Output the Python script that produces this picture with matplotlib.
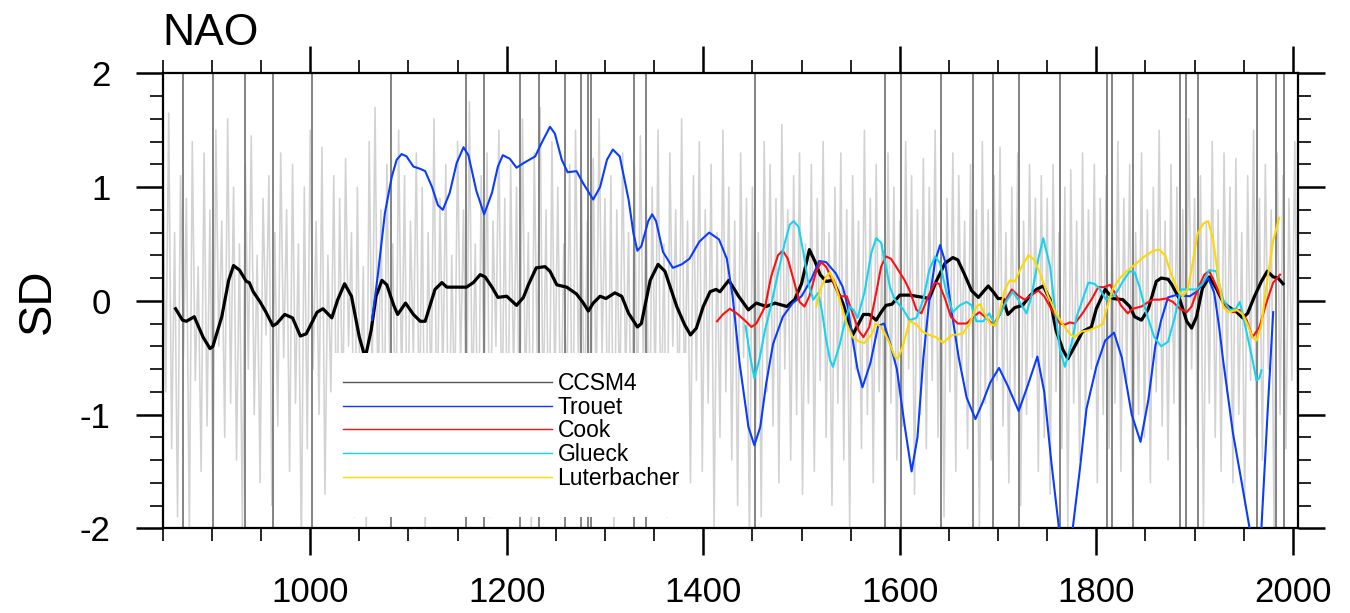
import numpy as np
import matplotlib
matplotlib.use("Agg")
import matplotlib.pyplot as plt
from matplotlib.lines import Line2D
from matplotlib.patches import Rectangle

plt.rcParams['font.family'] = ['Liberation Sans', 'DejaVu Sans']
plt.rcParams['axes.unicode_minus'] = False

# annual CCSM4 NAO index (light grey), sampled every 3 years from 850
annual_start = 850
annual_vals = [
    1.2, -0.8, 1.65, -1.3, 0.6, -1.9, 1.1, -0.5, 0.9, -2.1, 1.4, -0.7, 0.3, -1.5, 1.3, -1.1, 0.8, -1.7, 1.5, -0.4,
    0.7, -1.2, 1.6, -0.9, 1.0, -1.4, 0.5, -2.0, 1.2, -0.6, 1.45, -1.0, 0.4, -1.6, 0.9, -0.3, 1.1, -1.8, 0.6, -1.1,
    1.3, -0.5, 0.8, -1.5, 1.2, -0.9, 0.5, -2.2, 1.0, -1.3, 1.5, -0.6, 0.7, -1.0, 1.35, -1.7, 0.4, -0.8, 1.1, -1.4,
    0.9, -1.1, 1.25, -0.4, 0.6, -1.9, 1.0, -1.2, 0.3, -2.0, 1.4, -0.7, 1.7, -1.0, 0.8, -1.5, 1.2, -0.6, 0.5, -1.3,
    1.5, -0.8, 1.1, -1.6, 0.7, -0.5, 1.3, -1.2, 1.0, -2.1, 0.6, -0.9, 1.6, -1.4, 0.9, -0.7, 1.2, -1.8, 0.4, -1.0,
    1.4, -0.6, 0.8, -1.3, 1.75, -1.0, 0.5, -1.6, 1.1, -0.8, 1.3, -1.9, 0.7, -0.4, 1.5, -1.2, 0.9, -1.5, 1.2, -0.7,
    1.0, -1.4, 1.6, -0.9, 0.6, -2.0, 1.3, -0.5, 1.7, -1.1, 0.8, -1.6, 1.4, -0.8, 1.0, -1.3, 0.5, -1.0, 1.2, -1.7,
    1.5, -0.6, 1.1, -1.2, 0.7, -1.8, 1.25, -0.9, 1.6, -0.5, 0.9, -1.4, 1.1, -2.1, 0.8, -1.0, 1.3, -0.7, 0.6, -1.5,
    1.2, -1.1, 1.45, -0.6, 0.9, -1.7, 1.0, -0.8, 1.5, -1.3, 0.5, -1.9, 1.3, -0.4, 0.8, -1.2, 1.6, -1.0, 0.7, -1.6,
    1.1, -0.7, 1.4, -1.5, 0.8, -0.9, 1.2, -2.0, 0.6, -1.2, 1.5, -0.8, 1.0, -1.4, 0.7, -1.8, 1.3, -0.5, 0.9, -2.2,
    1.0, -1.3, 0.6, -1.9, 1.4, -0.8, 1.2, -1.1, 0.9, -1.6, 1.55, -0.6, 0.8, -1.4, 1.1, -1.0, 1.3, -1.7, 0.5, -0.9,
    1.2, -1.5, 0.9, -0.7, 1.4, -1.2, 0.6, -1.8, 1.0, -0.9, 1.3, -1.4, 0.8, -2.0, 1.1, -0.6, 0.7, -1.3, 1.5, -1.0,
    0.9, -1.6, 1.2, -0.8, 0.5, -2.1, 1.3, -0.9, 1.0, -1.4, 0.7, -1.1, 1.4, -0.6, 1.1, -1.7, 0.8, -1.0, 1.25, -1.3,
    1.0, -0.7, 1.5, -1.2, 0.6, -1.9, 0.9, -0.8, 1.3, -1.5, 1.1, -0.6, 0.7, -1.3, 1.2, -1.0, 0.8, -2.0, 1.4, -0.9,
    0.8, -1.4, 1.1, -0.7, 1.35, -1.1, 0.6, -1.6, 1.0, -0.9, 1.3, -1.8, 0.7, -1.0, 1.2, -0.5, 0.9, -1.5, 1.1, -1.2,
    0.9, -1.7, 1.2, -0.8, 0.6, -1.3, 1.0, -2.0, 1.15, -0.9, 0.7, -1.4, 1.3, -1.1, 0.8, -0.6, 1.2, -1.6, 0.9, -1.0,
    1.1, -1.3, 0.7, -0.9, 1.4, -1.5, 0.9, -0.7, 1.2, -1.9, 0.6, -1.0, 1.3, -1.2, 0.8, -1.6, 1.0, -0.8, 1.5, -1.1,
    0.7, -1.4, 1.2, -0.9, 1.0, -1.7, 0.8, -1.1, 1.6, -0.6, 0.9, -1.3, 1.1, -2.0, 0.7, -0.9, 1.4, -1.2, 0.8, -1.5,
    1.3, -0.8, 1.0, -1.6, 1.25, -1.0, 0.6, -1.8, 1.1, -0.7, 1.5, -1.2, 0.9, -1.4, 1.2, -0.6, 0.8, -2.1, 1.3, -1.0,
    1.1, -1.3, 0.9, -0.7, 1.4, -1.1,
]
annual_years = annual_start + 3 * np.arange(len(annual_vals))

# large volcanic eruptions (dark grey vertical lines)
volcano_years = [871, 901, 934, 962, 1002, 1082, 1159, 1177, 1214, 1233, 1259, 1276, 1283, 1286,
                 1330, 1342, 1453, 1585, 1601, 1642, 1674, 1695, 1721, 1763, 1811, 1816, 1837,
                 1885, 1891, 1903, 1964, 1983, 1991]

# smoothed CCSM4 NAO
ccsm_years = [863, 870, 874, 882, 891, 898, 901, 910, 917, 922, 928, 935, 938, 942, 949, 955, 962, 966,
              974, 982, 990, 996, 1003, 1007, 1013, 1022, 1028, 1035, 1042, 1050, 1056, 1062, 1067, 1073,
              1078, 1085, 1089, 1097, 1105, 1112, 1117, 1127, 1134, 1139, 1159, 1166, 1173, 1178, 1185,
              1191, 1200, 1210, 1217, 1222, 1230, 1239, 1244, 1251, 1261, 1271, 1278, 1283, 1288, 1295,
              1301, 1310, 1317, 1324, 1333, 1337, 1346, 1354, 1361, 1373, 1381, 1387, 1393, 1400, 1407,
              1413, 1417, 1426, 1436, 1446, 1454, 1464, 1473, 1485, 1493, 1500, 1508, 1514, 1519, 1525,
              1532, 1542, 1552, 1563, 1569, 1576, 1581, 1586, 1592, 1600, 1610, 1617, 1624, 1630, 1637,
              1646, 1654, 1659, 1666, 1673, 1680, 1685, 1690, 1695, 1700, 1705, 1710, 1717, 1725, 1732,
              1739, 1746, 1753, 1759, 1766, 1771, 1778, 1786, 1795, 1800, 1809, 1817, 1827, 1834, 1839,
              1846, 1853, 1861, 1866, 1873, 1877, 1885, 1892, 1897, 1902, 1908, 1915, 1922, 1929, 1934,
              1943, 1949, 1954, 1961, 1968, 1974, 1980, 1985, 1990]
ccsm_vals = [-0.07, -0.17, -0.18, -0.14, -0.32, -0.42, -0.40, -0.14, 0.18, 0.31, 0.27, 0.17, 0.16, 0.08,
             -0.01, -0.10, -0.22, -0.20, -0.12, -0.15, -0.31, -0.29, -0.17, -0.10, -0.07, -0.15, 0.01,
             0.15, 0.04, -0.32, -0.50, -0.26, 0.04, 0.18, 0.14, -0.04, -0.12, -0.02, -0.12, -0.18, -0.18,
             0.10, 0.16, 0.12, 0.12, 0.16, 0.23, 0.21, 0.12, 0.03, 0.04, -0.04, 0.03, 0.14, 0.29, 0.30,
             0.26, 0.14, 0.12, 0.06, -0.02, -0.09, -0.02, 0.04, 0.02, 0.07, 0.04, -0.11, -0.23, -0.20,
             0.18, 0.32, 0.26, -0.05, -0.21, -0.30, -0.24, -0.05, 0.08, 0.10, 0.08, 0.18, 0.04, -0.08,
             -0.02, -0.05, -0.02, -0.05, 0.01, 0.15, 0.45, 0.34, 0.23, 0.17, 0.18, -0.02, -0.30, -0.12,
             -0.12, -0.17, -0.10, -0.04, -0.03, 0.05, 0.05, 0.04, 0.03, 0.02, 0.17, 0.33, 0.38, 0.36,
             0.23, 0.09, 0.03, 0.08, 0.13, 0.08, 0.02, 0.02, -0.12, -0.06, -0.04, 0.04, 0.10, 0.13, 0.01,
             -0.26, -0.43, -0.51, -0.40, -0.27, -0.23, -0.07, 0.10, 0.02, 0.01, -0.05, -0.14, -0.17,
             -0.07, 0.17, 0.20, 0.19, 0.14, 0.01, -0.18, -0.24, -0.14, 0.11, 0.21, 0.11, -0.01, -0.05,
             -0.10, -0.15, -0.11, 0.04, 0.17, 0.26, 0.21, 0.20, 0.15]

# Trouet et al. reconstruction
trouet_years = [1063, 1069, 1076, 1083, 1088, 1093, 1098, 1105, 1112, 1117, 1124, 1130, 1135, 1142, 1149,
                1156, 1161, 1169, 1177, 1185, 1191, 1196, 1203, 1210, 1217, 1229, 1235, 1244, 1249, 1256,
                1262, 1271, 1278, 1288, 1295, 1302, 1308, 1315, 1324, 1329, 1333, 1337, 1344, 1348, 1352,
                1359, 1369, 1378, 1386, 1396, 1406, 1416, 1424, 1430, 1434, 1437, 1446, 1452, 1458, 1464,
                1471, 1481, 1491, 1500, 1510, 1518, 1525, 1535, 1542, 1547, 1552, 1557, 1562, 1570, 1578,
                1584, 1590, 1597, 1605, 1612, 1618, 1624, 1630, 1636, 1641, 1646, 1652, 1660, 1668, 1677,
                1684, 1692, 1701, 1710, 1721, 1730, 1740, 1747, 1754, 1762, 1769, 1776, 1783, 1790, 1800,
                1809, 1818, 1826, 1836, 1845, 1853, 1860, 1866, 1873, 1881, 1895, 1902, 1908, 1914, 1920,
                1925, 1929, 1939, 1948, 1956, 1962, 1968, 1975, 1980]
trouet_vals = [-0.17, 0.24, 0.77, 1.09, 1.24, 1.29, 1.27, 1.18, 1.16, 1.14, 1.00, 0.84, 0.80, 0.95, 1.21,
               1.35, 1.28, 0.97, 0.76, 0.95, 1.18, 1.28, 1.25, 1.17, 1.21, 1.27, 1.38, 1.53, 1.47, 1.24,
               1.13, 1.14, 1.03, 0.89, 1.00, 1.24, 1.33, 1.27, 0.89, 0.59, 0.44, 0.48, 0.70, 0.76, 0.70,
               0.43, 0.29, 0.32, 0.37, 0.52, 0.60, 0.54, 0.37, 0.03, -0.30, -0.55, -1.11, -1.27, -1.11,
               -0.73, -0.38, -0.14, -0.02, 0.04, 0.19, 0.35, 0.34, 0.24, 0.12, -0.05, -0.34, -0.60, -0.76,
               -0.55, -0.22, -0.20, -0.37, -0.60, -1.10, -1.50, -1.20, -0.50, 0.00, 0.35, 0.49, 0.35,
               -0.05, -0.50, -0.85, -1.04, -0.90, -0.72, -0.59, -0.75, -0.97, -0.75, -0.49, -0.80, -1.40,
               -2.00, -2.30, -2.00, -1.50, -0.95, -0.58, -0.35, -0.28, -0.50, -1.00, -1.24, -0.87, -0.40,
               -0.17, 0.03, 0.05, 0.04, 0.08, 0.15, 0.20, 0.07, -0.23, -0.52, -1.16, -1.60, -2.00, -2.25,
               -2.00, -0.87, -0.10]

# Cook et al. reconstruction
cook_years = [1414, 1420, 1427, 1434, 1442, 1449, 1454, 1463, 1469, 1476, 1481, 1486, 1493, 1498, 1503,
              1508, 1515, 1520, 1525, 1532, 1539, 1546, 1552, 1558, 1563, 1569, 1576, 1581, 1586, 1591,
              1597, 1605, 1610, 1617, 1622, 1629, 1636, 1640, 1646, 1652, 1659, 1668, 1675, 1681, 1688,
              1695, 1702, 1708, 1714, 1720, 1727, 1734, 1741, 1747, 1756, 1763, 1768, 1773, 1778, 1786,
              1795, 1802, 1808, 1814, 1819, 1825, 1832, 1837, 1846, 1853, 1858, 1864, 1871, 1878, 1885,
              1892, 1897, 1903, 1910, 1915, 1920, 1926, 1932, 1939, 1946, 1953, 1959, 1966, 1973, 1980,
              1987]
cook_vals = [-0.18, -0.12, -0.07, -0.11, -0.17, -0.23, -0.20, -0.05, 0.21, 0.40, 0.44, 0.37, 0.15, -0.01,
             -0.05, 0.04, 0.26, 0.34, 0.30, 0.17, 0.04, 0.04, -0.11, -0.26, -0.32, -0.23, 0.07, 0.30, 0.39,
             0.37, 0.29, 0.18, 0.09, -0.08, -0.11, 0.04, 0.16, 0.15, 0.02, -0.14, -0.20, -0.20, -0.14,
             -0.10, -0.15, -0.21, -0.12, 0.01, 0.10, 0.05, 0.01, 0.05, 0.09, 0.04, -0.10, -0.20, -0.21,
             -0.19, -0.20, -0.11, 0.01, 0.12, 0.12, 0.14, 0.07, -0.04, -0.11, -0.07, -0.05, -0.01, 0.01,
             0.01, 0.02, -0.01, -0.07, -0.10, -0.05, 0.10, 0.23, 0.26, 0.17, 0.05, -0.05, -0.10, -0.08,
             -0.17, -0.32, -0.23, -0.02, 0.16, 0.23]

# Glueck and Stockton reconstruction
glueck_years = [1443, 1448, 1452, 1457, 1463, 1468, 1476, 1483, 1488, 1492, 1497, 1502, 1507, 1512, 1517,
                1521, 1525, 1529, 1532, 1539, 1545, 1549, 1553, 1557, 1564, 1571, 1576, 1581, 1586, 1590,
                1595, 1603, 1610, 1617, 1624, 1630, 1636, 1641, 1647, 1654, 1661, 1668, 1673, 1678, 1685,
                1691, 1697, 1702, 1708, 1715, 1722, 1729, 1734, 1741, 1746, 1753, 1758, 1763, 1768, 1775,
                1780, 1786, 1792, 1798, 1803, 1810, 1819, 1827, 1834, 1839, 1844, 1851, 1859, 1866, 1873,
                1880, 1886, 1895, 1902, 1908, 1915, 1922, 1929, 1936, 1942, 1946, 1949, 1954, 1959, 1963,
                1966, 1968]
glueck_vals = [-0.22, -0.50, -0.68, -0.52, -0.25, -0.08, 0.24, 0.51, 0.67, 0.70, 0.65, 0.42, 0.15, 0.01,
               0.07, -0.10, -0.34, -0.52, -0.58, -0.38, -0.15, -0.05, -0.08, -0.15, 0.07, 0.42, 0.55, 0.51,
               0.30, 0.12, 0.01, -0.07, -0.17, -0.15, 0.01, 0.27, 0.39, 0.33, 0.09, -0.10, -0.04, -0.01,
               -0.04, -0.18, -0.18, -0.11, -0.21, -0.12, -0.01, 0.08, -0.01, -0.11, 0.04, 0.37, 0.55, 0.30,
               -0.08, -0.43, -0.58, -0.37, -0.14, 0.01, 0.16, 0.15, 0.11, 0.01, 0.05, 0.17, 0.26, 0.25,
               0.12, -0.11, -0.32, -0.40, -0.36, -0.14, 0.10, 0.10, 0.10, 0.15, 0.27, 0.26, 0.01, -0.08,
               -0.07, -0.01, -0.12, -0.32, -0.52, -0.70, -0.68, -0.61]

# Luterbacher et al. reconstruction
luter_years = [1515, 1519, 1525, 1529, 1534, 1541, 1546, 1552, 1559, 1564, 1571, 1576, 1581, 1588, 1595,
               1598, 1603, 1610, 1617, 1623, 1630, 1637, 1644, 1649, 1654, 1664, 1671, 1678, 1682, 1686,
               1692, 1697, 1702, 1707, 1712, 1717, 1724, 1731, 1737, 1744, 1751, 1759, 1766, 1773, 1778,
               1785, 1792, 1798, 1803, 1807, 1810, 1817, 1824, 1831, 1841, 1849, 1858, 1864, 1870, 1876,
               1883, 1888, 1893, 1898, 1903, 1909, 1914, 1919, 1924, 1929, 1934, 1943, 1949, 1954, 1959,
               1963, 1968, 1973, 1980, 1986]
luter_vals = [-0.05, 0.10, 0.21, 0.25, 0.15, -0.05, -0.20, -0.32, -0.36, -0.37, -0.30, -0.20, -0.23, -0.34,
              -0.49, -0.51, -0.40, -0.18, -0.21, -0.27, -0.30, -0.32, -0.37, -0.33, -0.30, -0.29, -0.20,
              -0.05, -0.03, -0.11, -0.20, -0.22, -0.08, 0.10, 0.18, 0.17, 0.30, 0.40, 0.36, 0.21, 0.04,
              -0.11, -0.21, -0.29, -0.32, -0.27, -0.26, -0.24, -0.22, -0.20, -0.08, 0.11, 0.20, 0.26, 0.33,
              0.39, 0.44, 0.45, 0.40, 0.24, 0.09, 0.04, 0.10, 0.33, 0.59, 0.68, 0.70, 0.53, 0.21, -0.05,
              -0.10, -0.08, -0.12, -0.21, -0.32, -0.35, -0.21, 0.12, 0.53, 0.73]

series_names = ["CCSM4", "Trouet", "Cook", "Glueck", "Luterbacher"]
series_colors = ["black", "#0a3cff", "#ff1010", "#16d4f0", "#ffd800"]

fig = plt.figure(figsize=(13.5, 6.13), dpi=100)
ax = fig.add_axes([0.1206, 0.1382, 0.8407, 0.7422])

ax.plot(annual_years, annual_vals, color="#d2d2d2", lw=1.15, zorder=1)
for vy in volcano_years:
    ax.axvline(vy, color="#7a7a7a", lw=1.3, zorder=2)

ax.plot(ccsm_years, ccsm_vals, color=series_colors[0], lw=2.3, zorder=3, solid_joinstyle="round")
ax.plot(trouet_years, trouet_vals, color=series_colors[1], lw=1.5, zorder=4, solid_joinstyle="round")
ax.plot(cook_years, cook_vals, color=series_colors[2], lw=1.5, zorder=4, solid_joinstyle="round")
ax.plot(glueck_years, glueck_vals, color=series_colors[3], lw=1.5, zorder=4, solid_joinstyle="round")
ax.plot(luter_years, luter_vals, color=series_colors[4], lw=1.5, zorder=4, solid_joinstyle="round")

ax.set_xlim(850, 2005)
ax.set_ylim(-2, 2)
ax.set_xticks(np.arange(1000, 2001, 200))
ax.set_xticks(np.arange(850, 2001, 50), minor=True)
ax.set_yticks([-2, -1, 0, 1, 2])
ax.set_yticks(np.arange(-2, 2.01, 0.2), minor=True)

ax.tick_params(which="both", direction="out", top=True, right=True, labelsize=25)
ax.tick_params(axis="y", pad=18)
ax.tick_params(axis="x", pad=15)
ax.tick_params(which="major", length=19.5, width=1.8)
ax.tick_params(which="minor", length=9.5, width=1.2)
for sp in ax.spines.values():
    sp.set_linewidth(1.6)

ax.set_title("NAO", loc="left", fontsize=32, y=1.062, pad=0)
ax.set_ylabel("SD", fontsize=34)
ax.yaxis.set_label_coords(-0.091, 0.5)

# white legend panel
ax.add_patch(Rectangle((0.150, 0.025), 0.312, 0.360, transform=ax.transAxes,
                       facecolor="white", edgecolor="none", zorder=6))
handles = [Line2D([], [], color="#555555", lw=1.0)] + \
          [Line2D([], [], color=c, lw=1.0) for c in series_colors[1:]]
leg = ax.legend(handles, series_names, loc="upper left", bbox_to_anchor=(0.1588, 0.3435),
                frameon=False, fontsize=16.5, handlelength=9.1, handletextpad=0.26,
                labelspacing=0.03, borderpad=0, borderaxespad=0)
leg.set_zorder(7)

fig.savefig("out.png", dpi=100)
